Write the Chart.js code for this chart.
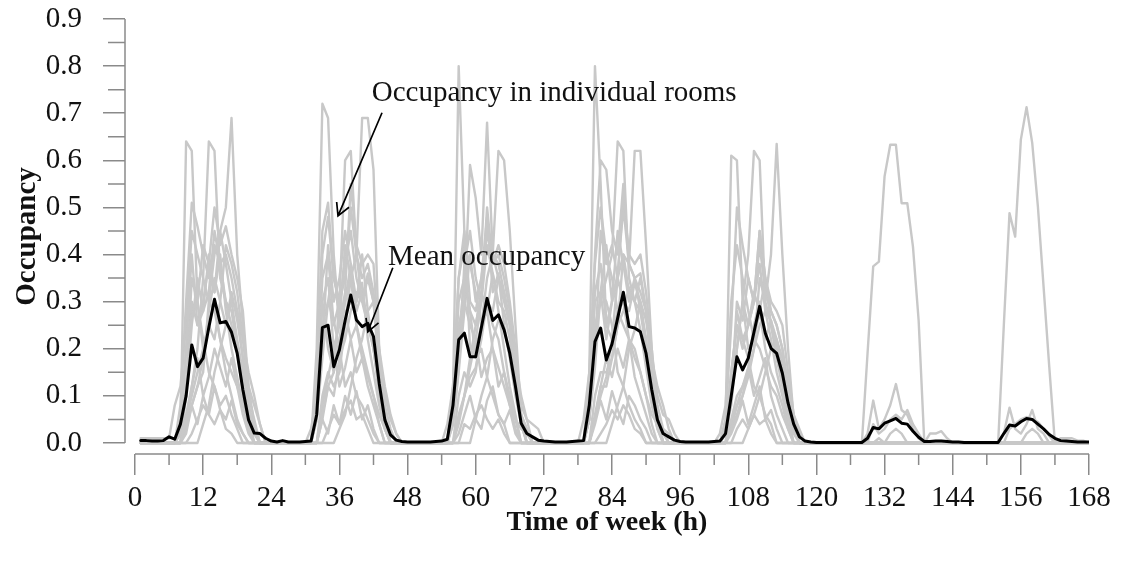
<!DOCTYPE html>
<html>
<head>
<meta charset="utf-8">
<title>Occupancy over the week</title>
<script src="https://cdn.jsdelivr.net/npm/chart.js@4.4.0/dist/chart.umd.min.js"></script>
<style>
  html, body { margin: 0; padding: 0; background: #fff; }
  canvas { display: block; }
</style>
</head>
<body>
<canvas id="occupancyChart" width="1121" height="565"></canvas>
<script>
// hour of the week, 1..168
const hours = Array.from({ length: 168 }, (_, i) => i + 1);

const xMajorTicks = [0, 12, 24, 36, 48, 60, 72, 84, 96, 108, 120, 132, 144, 156, 168];
const xMinorTicks = [6, 18, 30, 42, 54, 66, 78, 90, 102, 114, 126, 138, 150, 162];
const yMajorTicks = [0, 0.1, 0.2, 0.3, 0.4, 0.5, 0.6, 0.7, 0.8, 0.9];
const yMinorTicks = [0.05, 0.15, 0.25, 0.35, 0.45, 0.55, 0.65, 0.75, 0.85];

// mean occupancy over all rooms, one row per day
const meanOccupancy = [
  .005,.005,.004,.004,.005,.013,.008,.04,.10,.208,.162,.18,.245,.305,.255,.258,.235,.19,.113,.049,.021,.02,.01,.004,
  .002,.005,.002,.002,.002,.003,.004,.06,.245,.25,.162,.198,.26,.314,.261,.247,.254,.226,.127,.049,.017,.006,.003,.002,
  .002,.002,.002,.002,.003,.004,.008,.08,.219,.233,.183,.183,.245,.307,.26,.272,.24,.19,.12,.042,.02,.013,.006,.004,
  .003,.002,.002,.002,.003,.004,.005,.08,.215,.244,.176,.21,.265,.32,.247,.244,.236,.19,.113,.049,.02,.013,.006,.003,
  .002,.002,.002,.002,.002,.003,.004,.02,.10,.183,.155,.18,.235,.29,.233,.201,.19,.148,.085,.04,.013,.004,.002,.001,
  .001,.001,.001,.001,.001,.001,.001,.001,.01,.033,.03,.042,.047,.052,.042,.04,.025,.012,.003,.003,.004,.004,.003,.002,
  .002,.001,.001,.001,.001,.001,.001,.001,.02,.038,.036,.045,.052,.05,.04,.03,.018,.01,.005,.004,.003,.002,.002,.002
];

const idleDay = [0,0,0,0,0,0,0,0,0,0,0,0,0,0,0,0,0,0,0,0,0,0,0,0];

// individual rooms, one row per day
const room01 = [
  0,0,0,0,0, 0,0,.02,.64,.62,.30,.20,.25,.30,.22,.15,.10,.05,.02,0,0,0,0,0,
  0,0,0,0,0, 0,0,.20,.72,.69,.40,.25,.30,.35,.25,.20,.15,.10,.04,0,0,0,0,0,
  0,0,0,0,0, 0,0,.10,.80,.45,.20,.20,.25,.30,.25,.22,.15,.10,.05,0,0,0,0,0,
  0,0,0,0,0, 0,0,.15,.80,.55,.25,.22,.28,.30,.22,.20,.15,.10,.04,0,0,0,0,0,
  0,0,0,0,0, 0,0,.05,.61,.60,.30,.20,.22,.28,.20,.15,.12,.08,.03,0,0,0,0,0,
  ...idleDay, ...idleDay
];
const room02 = [
  0,0,0,0,0, 0,0,0,.05,.12,.20,.35,.64,.62,.35,.30,.28,.20,.10,.03,0,0,0,0,
  0,0,0,0,0, 0,0,.05,.30,.20,.15,.30,.60,.62,.40,.30,.25,.20,.10,.03,0,0,0,0,
  0,0,0,0,0, 0,0,.05,.20,.30,.59,.52,.40,.68,.40,.35,.30,.25,.12,.04,0,0,0,0,
  0,0,0,0,0, 0,0,.05,.25,.30,.35,.40,.64,.62,.35,.30,.28,.22,.10,.03,0,0,0,0,
  0,0,0,0,0, 0,0,0,.10,.20,.30,.40,.62,.60,.30,.25,.20,.15,.06,0,0,0,0,0,
  ...idleDay, ...idleDay
];
const room03 = [
  0,0,0,0,0, 0,0,0,.02,.08,.12,.15,.30,.40,.45,.50,.69,.40,.25,.08,.02,0,0,0,
  0,0,0,0,0, 0,0,0,.10,.15,.12,.15,.25,.35,.40,.69,.69,.58,.20,.05,0,0,0,0,
  0,0,0,0,0, 0,0,0,.10,.15,.12,.15,.25,.35,.40,.62,.60,.45,.25,.06,0,0,0,0,
  0,0,0,0,0, 0,0,0,.10,.15,.15,.18,.25,.40,.38,.62,.62,.42,.20,.06,0,0,0,0,
  0,0,0,0,0, 0,0,0,.05,.10,.12,.15,.20,.35,.30,.40,.635,.40,.20,.05,0,0,0,0,
  ...idleDay, ...idleDay
];
const room04 = [
  0,0,0,0,0, 0,0,.08,.30,.51,.46,.40,.35,.42,.38,.30,.25,.20,.12,.04,0,0,0,0,
  0,0,0,0,0, 0,0,.15,.45,.51,.35,.30,.38,.45,.35,.30,.35,.30,.15,.05,0,0,0,0,
  0,0,0,0,0, 0,0,.12,.35,.45,.30,.28,.35,.45,.40,.38,.32,.25,.15,.05,0,0,0,0,
  0,0,0,0,0, 0,0,.12,.40,.60,.58,.45,.40,.55,.38,.35,.32,.28,.14,.05,0,0,0,0,
  0,0,0,0,0, 0,0,.05,.25,.50,.42,.35,.30,.45,.35,.28,.25,.20,.12,.04,0,0,0,0,
  0,0,0,0,0, 0,0,0,.02,.09,.03,.05,.08,.125,.07,.06,.03,.01,0,0,0,0,0,0,
  0,0,0,0,0, 0,0,0,.02,.075,.03,.02,.04,.07,.03,.02,0,0,0,0,0,0,0,0
];
const room05 = [
  0,0,0,0,0, 0,0,0,.20,.40,.25,.30,.38,.50,.42,.46,.40,.35,.28,.12,.04,0,0,0,
  0,0,0,0,0, 0,0,.10,.30,.35,.20,.25,.32,.55,.42,.38,.40,.38,.20,.08,.03,0,0,0,
  0,0,0,0,0, 0,0,.10,.25,.30,.25,.22,.30,.50,.38,.42,.38,.30,.20,.06,.03,0,0,0,
  0,0,0,0,0, 0,0,.10,.30,.32,.22,.30,.35,.52,.40,.38,.40,.32,.20,.08,.03,0,0,0,
  0,0,0,0,0, 0,0,.03,.15,.25,.20,.25,.30,.45,.35,.30,.28,.25,.15,.06,0,0,0,0,
  0,0,0,0,0, 0,0,0,0,.04,.02,.03,.05,.06,.05,.07,.04,.02,0,0,0,0,0,0,
  0,0,0,0,0, 0,0,0,0,.03,.04,.05,.055,.05,.045,.03,.015,0,0,0,0,0,0,0
];
const room06 = [
  0,0,0,0,0, 0,0,.03,.10,.25,.35,.28,.40,.32,.45,.38,.30,.22,.15,.08,.03,0,0,0,
  0,0,0,0,0, 0,0,.05,.18,.30,.38,.25,.42,.35,.30,.40,.28,.20,.12,.05,0,0,0,0,
  0,0,0,0,0, 0,0,.04,.15,.28,.40,.30,.35,.48,.32,.36,.25,.18,.10,.04,0,0,0,0,
  0,0,0,0,0, 0,0,.05,.16,.32,.42,.30,.45,.38,.30,.35,.28,.20,.10,.05,.02,0,0,0,
  0,0,0,0,0, 0,0,.02,.08,.20,.30,.25,.32,.28,.35,.25,.18,.12,.06,.02,0,0,0,0,
  0,0,0,0,0, 0,0,0,0,0,.01,0,.02,.03,.02,0,0,0,0,0,0,0,0,0,
  0,0,0,0,0, 0,0,0,0,0,0,0,.02,.03,.02,0,0,0,0,0,0,0,0,0
];
const room07 = [
  .01,.01,.01,.01,.01, .01,.08,.12,.25,.45,.40,.35,.30,.28,.22,.18,.15,.12,.08,.04,.02,0,0,0,
  0,0,0,0,0, 0,.03,.10,.40,.48,.35,.30,.28,.22,.25,.18,.14,.10,.06,.03,0,0,0,0,
  0,0,0,0,0, 0,.04,.12,.35,.42,.38,.32,.25,.28,.20,.16,.12,.08,.05,.03,.02,0,0,0,
  0,0,0,0,0, 0,.05,.15,.38,.50,.40,.35,.28,.25,.22,.18,.15,.10,.06,.04,.03,.02,0,0,
  0,0,0,0,0, 0,.02,.08,.30,.42,.35,.28,.22,.20,.16,.12,.10,.06,.03,0,0,0,0,0,
  0,0,0,0,0, 0,0,0,0,0,0,0,0,0,0,0,0,0,0,.02,.02,.025,.01,0,
  0,0,0,0,0, 0,0,0,0,0,0,0,0,0,0,0,0,0,.01,.01,.01,.005,.005,0
];
const room08 = [
  0,0,0,0,0, 0,0,0,.05,.10,.15,.20,.25,.22,.30,.42,.38,.32,.22,.12,.08,.04,0,0,
  0,0,0,0,0, 0,0,0,.06,.12,.10,.18,.22,.28,.32,.30,.36,.30,.18,.10,.05,.02,0,0,
  0,0,0,0,0, 0,0,0,.04,.10,.14,.16,.22,.30,.28,.35,.32,.26,.16,.08,.05,.04,.03,0,
  0,0,0,0,0, 0,0,0,.05,.12,.12,.18,.25,.28,.33,.30,.35,.28,.18,.10,.06,.05,.02,0,
  0,0,0,0,0, 0,0,0,.03,.08,.10,.14,.20,.25,.28,.26,.22,.16,.10,.05,.02,0,0,0,
  ...idleDay, ...idleDay
];
const room09 = [
  0,0,0,0,0, 0,0,.05,.20,.28,.30,.22,.15,.12,.08,.10,.06,.03,0,0,0,0,0,0,
  0,0,0,0,0, 0,0,.08,.25,.30,.26,.20,.12,.15,.10,.08,.05,.02,0,0,0,0,0,0,
  0,0,0,0,0, 0,0,.06,.22,.35,.28,.18,.20,.14,.10,.06,.04,0,0,0,0,0,0,0,
  0,0,0,0,0, 0,0,.05,.20,.32,.30,.25,.15,.12,.08,.05,.03,0,0,0,0,0,0,0,
  0,0,0,0,0, 0,0,.04,.15,.25,.22,.18,.12,.10,.06,.04,0,0,0,0,0,0,0,0,
  ...idleDay, ...idleDay
];
const room10 = [
  0,0,0,0,0, 0,0,0,0,0,0,.04,.08,.15,.20,.25,.30,.28,.22,.15,.10,.04,0,0,
  0,0,0,0,0, 0,0,0,0,0,0,.03,.06,.12,.18,.22,.28,.30,.20,.12,.06,.02,0,0,
  0,0,0,0,0, 0,0,0,0,0,0,.05,.10,.14,.22,.26,.25,.28,.18,.10,.05,0,0,0,
  0,0,0,0,0, 0,0,0,0,0,0,.04,.08,.12,.20,.24,.30,.26,.18,.12,.08,.03,0,0,
  0,0,0,0,0, 0,0,0,0,0,0,.03,.06,.10,.15,.20,.22,.18,.12,.06,.03,0,0,0,
  ...idleDay, ...idleDay
];
const room11 = [
  0,0,0,0,0, 0,0,0,.03,.08,.04,.10,.06,.12,.07,.05,.09,.04,.02,0,0,0,0,0,
  0,0,0,0,0, 0,0,0,.05,.02,.08,.04,.10,.06,.11,.05,.08,.03,0,0,0,0,0,0,
  0,0,0,0,0, 0,0,0,.02,.06,.10,.05,.03,.09,.12,.06,.04,.07,.02,0,0,0,0,0,
  0,0,0,0,0, 0,0,0,.04,.09,.05,.11,.07,.04,.10,.08,.05,.03,0,0,0,0,0,0,
  0,0,0,0,0, 0,0,0,.02,.05,.09,.04,.08,.12,.05,.07,.03,0,0,0,0,0,0,0,
  ...idleDay, ...idleDay
];
const room12 = [
  0,0,0,0,0, 0,0,0,0,.02,.05,.08,.06,.04,.07,.03,.02,0,0,0,0,0,0,0,
  0,0,0,0,0, 0,0,0,0,.03,.06,.04,.07,.09,.05,.06,.03,0,0,0,0,0,0,0,
  0,0,0,0,0, 0,0,0,0,.04,.03,.06,.08,.05,.03,.05,.02,0,0,0,0,0,0,0,
  0,0,0,0,0, 0,0,0,0,.02,.04,.07,.05,.08,.06,.03,.02,0,0,0,0,0,0,0,
  0,0,0,0,0, 0,0,0,0,.03,.05,.03,.06,.04,.05,.02,0,0,0,0,0,0,0,0,
  ...idleDay, ...idleDay
];
const room13 = [
  0,0,0,0,0, 0,0,.02,.06,.12,.18,.10,.14,.20,.16,.12,.18,.12,.06,.02,0,0,0,0,
  0,0,0,0,0, 0,0,0,.08,.14,.20,.12,.16,.22,.15,.18,.12,.08,.04,0,0,0,0,0,
  0,0,0,0,0, 0,0,0,.05,.10,.16,.22,.14,.18,.20,.12,.15,.08,.03,0,0,0,0,0,
  0,0,0,0,0, 0,0,0,.06,.12,.18,.14,.20,.16,.22,.14,.10,.06,.02,0,0,0,0,0,
  0,0,0,0,0, 0,0,0,.04,.08,.12,.16,.10,.14,.18,.10,.06,.03,0,0,0,0,0,0,
  ...idleDay, ...idleDay
];
// the one room that is also busy at the weekend
const room14 = [
  0,0,0,0,0, 0,0,0,.10,.30,.25,.28,.32,.45,.38,.40,.35,.28,.18,.06,0,0,0,0,
  0,0,0,0,0, 0,0,.10,.35,.40,.25,.30,.35,.50,.40,.35,.38,.32,.18,.06,0,0,0,0,
  0,0,0,0,0, 0,0,.08,.30,.35,.28,.25,.32,.45,.38,.40,.35,.28,.16,.05,0,0,0,0,
  0,0,0,0,0, 0,0,.10,.32,.38,.25,.30,.36,.50,.38,.35,.36,.28,.16,.06,0,0,0,0,
  0,0,0,0,0, 0,0,0,.10,.28,.22,.25,.30,.42,.32,.28,.25,.20,.12,.04,0,0,0,0,
  0,0,0,0,0, 0,0,0,.19,.375,.385,.566,.633,.633,.509,.509,.417,.26,0,0,0,0,0,0,
  0,0,0,0,0, 0,0,0,.25,.488,.438,.644,.713,.637,.502,.332,.162,0,0,0,0,0,0,0
];
const room15 = [
  0,0,0,0,0, 0,0,.03,.12,.35,.30,.42,.38,.32,.40,.28,.20,.14,.08,.03,0,0,0,0,
  0,0,0,0,0, 0,0,.06,.20,.42,.30,.35,.45,.38,.30,.34,.22,.15,.08,.03,0,0,0,0,
  0,0,0,0,0, 0,0,.04,.16,.38,.45,.35,.30,.42,.36,.28,.20,.12,.06,0,0,0,0,0,
  0,0,0,0,0, 0,0,.05,.18,.45,.38,.42,.35,.40,.32,.30,.24,.16,.08,.03,0,0,0,0,
  0,0,0,0,0, 0,0,.02,.10,.30,.26,.35,.30,.38,.28,.22,.15,.10,.04,0,0,0,0,0,
  ...idleDay, ...idleDay
];
const room16 = [
  0,0,0,0,0, 0,0,0,.04,.08,.12,.18,.28,.35,.30,.25,.32,.26,.18,.10,.05,0,0,0,
  0,0,0,0,0, 0,0,0,.05,.12,.15,.22,.30,.38,.28,.32,.26,.20,.12,.06,0,0,0,0,
  0,0,0,0,0, 0,0,0,.06,.10,.18,.25,.32,.28,.36,.30,.28,.22,.14,.06,.03,0,0,0,
  0,0,0,0,0, 0,0,0,.05,.10,.14,.22,.35,.30,.28,.34,.30,.22,.12,.05,0,0,0,0,
  0,0,0,0,0, 0,0,0,.03,.06,.10,.16,.25,.30,.22,.26,.20,.14,.08,.03,0,0,0,0,
  ...idleDay, ...idleDay
];

const rooms = [room01, room02, room03, room04, room05, room06, room07, room08,
               room09, room10, room11, room12, room13, room14, room15, room16];

const SERIF = '"Liberation Serif", "Times New Roman", Times, serif';
const AXIS_GREY = '#8a8a8a';
const TEXT = '#111';

const toPoints = vals => hours.map((h, i) => ({ x: h, y: vals[i] }));

const datasets = [{
  label: 'Mean occupancy',
  data: toPoints(meanOccupancy),
  borderColor: '#000',
  borderWidth: 3,
  order: 0
}].concat(rooms.map((r, i) => ({
  label: 'Room ' + (i + 1),
  data: toPoints(r),
  borderColor: '#c8c8c8',
  borderWidth: 2.4,
  order: 1
})));

// offset axis lines, minor ticks and the two labelled arrows
const axesAndNotes = {
  id: 'axesAndNotes',
  afterDraw(chart) {
    const { ctx, chartArea } = chart;
    const x = chart.scales.x, y = chart.scales.y;
    ctx.save();
    ctx.strokeStyle = AXIS_GREY;
    ctx.lineWidth = 1.5;
    ctx.beginPath();
    ctx.moveTo(chartArea.left, y.getPixelForValue(0));
    ctx.lineTo(chartArea.left, y.getPixelForValue(0.9));
    ctx.moveTo(x.getPixelForValue(0), chartArea.bottom);
    ctx.lineTo(x.getPixelForValue(168), chartArea.bottom);
    yMinorTicks.forEach(v => {
      const py = y.getPixelForValue(v);
      ctx.moveTo(chartArea.left - 17, py);
      ctx.lineTo(chartArea.left, py);
    });
    xMinorTicks.forEach(v => {
      const px = x.getPixelForValue(v);
      ctx.moveTo(px, chartArea.bottom);
      ctx.lineTo(px, chartArea.bottom + 11);
    });
    ctx.stroke();

    const notes = [
      { text: 'Occupancy in individual rooms', at: [41.7, 0.726], from: [43.5, 0.701], to: [35.75, 0.482] },
      { text: 'Mean occupancy', at: [44.55, 0.378], from: [45.4, 0.372], to: [41.0, 0.236] }
    ];
    ctx.fillStyle = TEXT;
    ctx.strokeStyle = '#000';
    ctx.lineWidth = 1.7;
    ctx.font = '29px ' + SERIF;
    ctx.textAlign = 'left';
    ctx.textBaseline = 'alphabetic';
    notes.forEach(n => {
      ctx.fillText(n.text, x.getPixelForValue(n.at[0]), y.getPixelForValue(n.at[1]));
      const x0 = x.getPixelForValue(n.from[0]), y0 = y.getPixelForValue(n.from[1]);
      const x1 = x.getPixelForValue(n.to[0]), y1 = y.getPixelForValue(n.to[1]);
      const ang = Math.atan2(y1 - y0, x1 - x0);
      const len = 14, spread = 0.5;
      ctx.beginPath();
      ctx.moveTo(x0, y0);
      ctx.lineTo(x1, y1);
      ctx.moveTo(x1 - len * Math.cos(ang - spread), y1 - len * Math.sin(ang - spread));
      ctx.lineTo(x1, y1);
      ctx.lineTo(x1 - len * Math.cos(ang + spread), y1 - len * Math.sin(ang + spread));
      ctx.stroke();
    });
    ctx.restore();
  }
};

new Chart(document.getElementById('occupancyChart'), {
  type: 'line',
  data: { datasets },
  plugins: [axesAndNotes],
  options: {
    responsive: false,
    animation: false,
    devicePixelRatio: 1,
    layout: { padding: { top: 19, right: 32, bottom: 0, left: 0 } },
    plugins: { legend: { display: false }, tooltip: { enabled: false } },
    elements: {
      point: { radius: 0 },
      line: { tension: 0, borderJoinStyle: 'round', borderCapStyle: 'round' }
    },
    scales: {
      x: {
        type: 'linear',
        min: -1.76,
        max: 168,
        afterBuildTicks: s => { s.ticks = xMajorTicks.map(v => ({ value: v })); },
        afterFit: s => { s.height = 111; },
        border: { display: false },
        grid: { drawOnChartArea: false, tickLength: 21, color: AXIS_GREY, lineWidth: 1.5 },
        ticks: {
          autoSkip: false, maxRotation: 0, padding: 6, color: TEXT,
          font: { family: SERIF, size: 29 }
        },
        title: {
          display: true, text: 'Time of week (h)', color: TEXT,
          font: { family: SERIF, size: 28, weight: 'bold' },
          padding: { top: 0, bottom: 25 }
        }
      },
      y: {
        min: -0.0234,
        max: 0.9,
        afterBuildTicks: s => { s.ticks = yMajorTicks.map(v => ({ value: v })); },
        // fixed gutter; the label padding must not push the plot top down
        afterFit: s => { s.width = 125; s.paddingTop = 0; s.paddingBottom = 0; },
        border: { display: false },
        grid: { drawOnChartArea: false, tickLength: 22, color: AXIS_GREY, lineWidth: 1.5 },
        ticks: {
          padding: 21, color: TEXT,
          font: { family: SERIF, size: 29 },
          callback: v => v.toFixed(1)
        },
        title: {
          display: true, text: 'Occupancy', color: TEXT,
          font: { family: SERIF, size: 29, weight: 'bold' },
          padding: { top: 10, bottom: 0 }
        }
      }
    }
  }
});
</script>
</body>
</html>
